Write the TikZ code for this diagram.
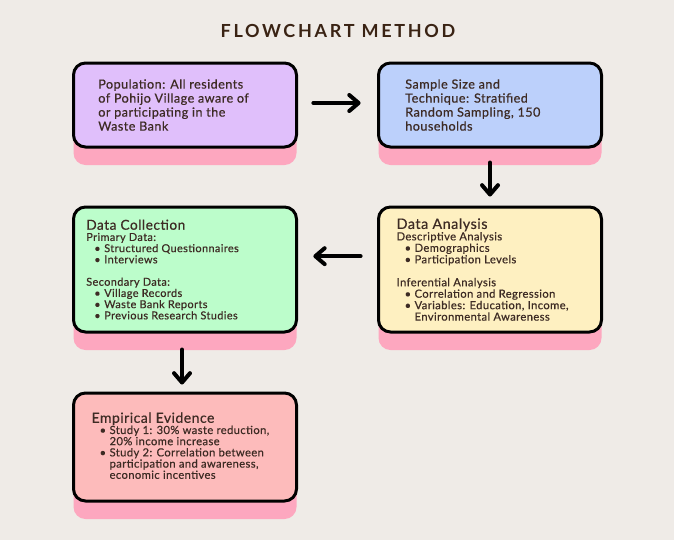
\documentclass[tikz,border=0pt]{standalone}
\usepackage{fontspec}
\setmainfont{Lato}[LetterSpace=3.5, FakeBold=0.5]
\newfontfamily\titlefont[LetterSpace=15]{Lato}
\usetikzlibrary{arrows.meta,shadows}
\usepackage{xcolor}

\definecolor{bgcol}{HTML}{EFEBE7}
\definecolor{titlecol}{HTML}{3A2314}
\definecolor{txtcol}{HTML}{3D2B24}
\definecolor{lila}{HTML}{E0BFFB}
\definecolor{hellblau}{HTML}{BCD0FB}
\definecolor{mint}{HTML}{BCFDCB}
\definecolor{creme}{HTML}{FEF0C1}
\definecolor{rosa}{HTML}{FDBBBB}
\definecolor{schatten}{HTML}{FDA7BF}

% Aufzaehlungspunkte
\newcommand{\bul}[1]{\hspace*{6pt}\makebox[7.5pt][l]{\textbullet}#1}
\newcommand{\cont}[1]{\hspace*{13.5pt}#1}

\begin{document}
\begin{tikzpicture}[x=0.75pt,y=-0.75pt,>=latex,
  box/.style={draw=black, line width=2.25pt, rounded corners=9pt,
    minimum width=167.25pt, minimum height=#1*0.75pt, inner sep=0pt,
    general shadow={fill=schatten, shadow yshift=-13.5pt}},
  boxtext/.style={anchor=west, align=left, inner sep=0pt, text=txtcol},
  pfeil/.style={line width=3pt, line cap=round,
    -{Straight Barb[length=7pt,width=12pt,line cap=round,line join=round]}}]

%Hintergrund
\fill[bgcol] (0,0) rectangle (674,540);
\useasboundingbox (0,0) rectangle (674,540);

\node[text=titlecol, font=\titlefont\bfseries\fontsize{13.5}{16}\selectfont] (title) at (338,31) {FLOWCHART METHOD};

%Kaesten
\node[box=84, fill=lila] (pop) at (185,105) {};
\node[box=84, fill=hellblau] (sample) at (490,105) {};
\node[box=125, fill=mint] (collect) at (185,269.5) {};
\node[box=125, fill=creme] (analysis) at (490,269.5) {};
\node[box=108, fill=rosa] (evidence) at (185,447) {};

%Texte
\node[boxtext, font=\fontsize{9.5}{10.5}\selectfont] (poptext) at ([xshift=19.5pt]pop.west)
  {Population: All residents\\of Pohijo Village aware of\\or participating in the\\Waste Bank};
\node[boxtext, font=\fontsize{9.5}{10.5}\selectfont] (sampletext) at ([xshift=21pt]sample.west)
  {Sample Size and\\Technique: Stratified\\Random Sampling, 150\\households};
\node[boxtext, font=\fontsize{8.2}{8.4}\selectfont] (collecttext) at ([xshift=10.5pt]collect.west)
  {{\fontsize{10.3}{10.5}\selectfont Data Collection}\\
   Primary Data:\\
   \bul{Structured Questionnaires}\\
   \bul{Interviews}\\[8.4pt]
   Secondary Data:\\
   \bul{Village Records}\\
   \bul{Waste Bank Reports}\\
   \bul{Previous Research Studies}};
\node[boxtext, font=\fontsize{8.4}{8.6}\selectfont] (analysistext) at ([xshift=14.5pt]analysis.west)
  {{\fontsize{10.8}{10.5}\selectfont Data Analysis}\\
   Descriptive Analysis\\
   \bul{Demographics}\\
   \bul{Participation Levels}\\[8.6pt]
   Inferential Analysis\\
   \bul{Correlation and Regression}\\
   \bul{Variables: Education, Income,}\\
   \cont{Environmental Awareness}};
\node[boxtext, font=\fontsize{8.4}{8.4}\selectfont] (evidencetext) at ([xshift=14.5pt,yshift=1pt]evidence.west)
  {{\fontsize{10.5}{11.5}\selectfont Empirical Evidence}\\
   \bul{Study 1: 30\% waste reduction,}\\
   \cont{20\% income increase}\\
   \bul{Study 2: Correlation between}\\
   \cont{participation and awareness,}\\
   \cont{economic incentives}};

%Pfeile
\draw[pfeil, shorten <=11.5pt, shorten >=12.3pt] ([yshift=1.5pt]pop.east) -- ([yshift=1.5pt]sample.west);
\draw[pfeil, shorten <=10.5pt, shorten >=6.75pt] (sample.south) -- (analysis.north);
\draw[pfeil, shorten <=12.3pt, shorten >=11.5pt] ([yshift=10pt]analysis.west) -- ([yshift=10pt]collect.east);
\draw[pfeil, shorten <=12pt, shorten >=5.25pt] ([xshift=-2.25pt]collect.south) -- ([xshift=-2.25pt]evidence.north);

\end{tikzpicture}
\end{document}
